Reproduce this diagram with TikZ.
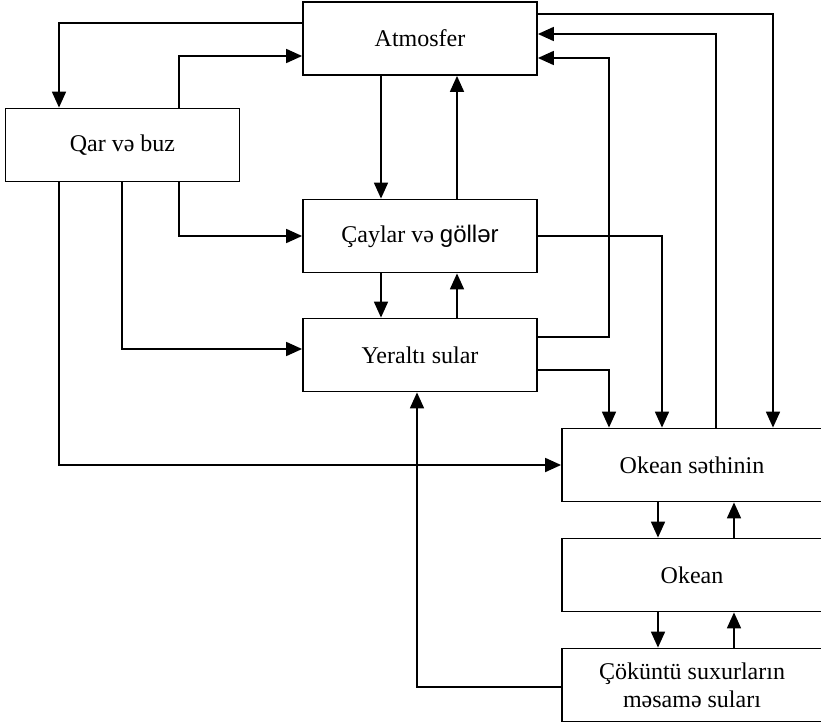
\documentclass[tikz,border=0pt]{standalone}
\usepackage{fontspec}
\setmainfont{Liberation Serif}
\newfontfamily\arialfont{Liberation Sans}
\usepackage{tikz}
\usetikzlibrary{arrows.meta}

\begin{document}
\begin{tikzpicture}[x=0.5pt, y=-0.5pt, font=\fontsize{12}{13.8}\selectfont,
  box/.style={draw, line width=0.9pt, minimum width=117pt, minimum height=36.5pt, inner sep=0pt, align=center},
  wide/.style={box, minimum width=130pt},
  flow/.style={line width=0.9pt, -{Triangle[length=8pt,width=7pt]}}]

\useasboundingbox (0,0) rectangle (821,723);
\clip (0,0) rectangle (821,723);

\node[box]  (atm)   at (420,38.5)  {Atmosfer};
\node[box]  (qar)   at (122.5,145) {Qar və buz};
\node[box]  (cay)   at (420,236)   {Çaylar və {\arialfont göllər}};
\node[box]  (yer)   at (420,355)   {Yeraltı sular};
\node[wide] (okss)  at (692,465)   {Okean səthinin};
\node[wide] (okean) at (692,575)   {Okean};
\node[wide] (cok)   at (692,685)   {Çöküntü suxurların\\məsamə suları};

% Qar ve buz
\draw[flow] (atm.west |- 0,23) -| (qar.north -| 59,0);
\draw[flow] (qar.north -| 179,0) |- (atm.west |- 0,56);
\draw[flow] (qar.south -| 179,0) |- (cay.west);
\draw[flow] (qar.south -| 122,0) |- (yer.west |- 0,349);
\draw[flow] (qar.south -| 59,0) |- (okss.west);

% middle column
\draw[flow] (atm.south -| 381,0) -- (cay.north -| 381,0);
\draw[flow] (cay.north -| 457,0) -- (atm.south -| 457,0);
\draw[flow] (cay.south -| 381,0) -- (yer.north -| 381,0);
\draw[flow] (yer.north -| 457,0) -- (cay.south -| 457,0);

% right side
\draw[flow] (atm.east |- 0,14) -| (okss.north -| 773,0);
\draw[flow] (okss.north -| 716,0) |- (atm.east |- 0,34);
\draw[flow] (yer.east |- 0,337) -- (609,337) |- (atm.east |- 0,58);
\draw[flow] (cay.east) -| (okss.north -| 662,0);
\draw[flow] (yer.east |- 0,370) -| (okss.north -| 609,0);

% ocean column
\draw[flow] (okss.south -| 658,0) -- (okean.north -| 658,0);
\draw[flow] (okean.north -| 734,0) -- (okss.south -| 734,0);
\draw[flow] (okean.south -| 658,0) -- (cok.north -| 658,0);
\draw[flow] (cok.north -| 734,0) -- (okean.south -| 734,0);
\draw[flow] (cok.west |- 0,687) -| (yer.south -| 417,0);
\end{tikzpicture}
\end{document}
